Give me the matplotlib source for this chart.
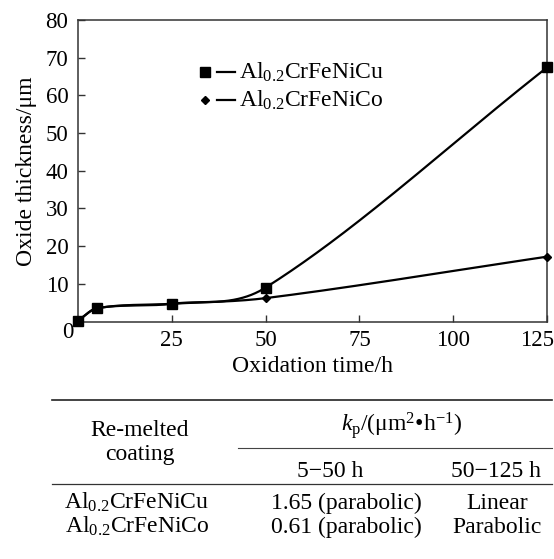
import numpy as np
import matplotlib
matplotlib.use("Agg")
import matplotlib.pyplot as plt
from matplotlib.lines import Line2D

plt.rcParams['font.family'] = ['Liberation Serif', 'DejaVu Serif']
plt.rcParams['mathtext.fontset'] = 'custom'
plt.rcParams['mathtext.rm'] = 'Liberation Serif'
plt.rcParams['mathtext.it'] = 'Liberation Serif:italic'

# ---- data ----
time_h = [0, 5, 25, 50, 125]
cu_thick = [0.2, 3.5, 4.7, 9.0, 67.4]
co_thick = [0.2, 3.5, 4.7, 6.2, 17.2]
series_labels = [r'Al$_{\mathregular{0.2}}$CrFeNiCu', r'Al$_{\mathregular{0.2}}$CrFeNiCo']
xticks = [25, 50, 75, 100, 125]
yticks = [10, 20, 30, 40, 50, 60, 70, 80]

table_header = ['Re-melted', 'coating',
                r'$\mathit{k}_{\mathregular{p}}$/(μm$^{\mathregular{2}}$•h$^{\mathregular{−1}}$)',
                '5−50 h', '50−125 h']
table_rows = [
    [series_labels[0], '1.65 (parabolic)', 'Linear'],
    [series_labels[1], '0.61 (parabolic)', 'Parabolic'],
]


def smooth_curve(x, y, xs):
    """Cardinal (Catmull-Rom style) Hermite curve through the points, for drawing."""
    x = np.asarray(x, float); y = np.asarray(y, float)
    n = len(x)
    m = np.zeros(n)
    m[0] = (y[1] - y[0]) / (x[1] - x[0])
    m[-1] = (y[-1] - y[-2]) / (x[-1] - x[-2])
    for i in range(1, n - 1):
        m[i] = (y[i + 1] - y[i - 1]) / (x[i + 1] - x[i - 1])
    idx = np.clip(np.searchsorted(x, xs) - 1, 0, n - 2)
    h = x[idx + 1] - x[idx]
    t = (xs - x[idx]) / h
    h00 = 2 * t**3 - 3 * t**2 + 1
    h10 = t**3 - 2 * t**2 + t
    h01 = -2 * t**3 + 3 * t**2
    h11 = t**3 - t**2
    return h00 * y[idx] + h10 * h * m[idx] + h01 * y[idx + 1] + h11 * h * m[idx + 1]


W, H = 554, 559
fig = plt.figure(figsize=(W / 100, H / 100), dpi=100)
fx = lambda p: p / W
fy = lambda p: 1 - p / H

L, R, T, B = 78, 547, 20, 321.5
ax = fig.add_axes([fx(L), fy(B), fx(R) - fx(L), fy(T) - fy(B)])

xs = np.linspace(time_h[0], time_h[-1], 800)
ax.plot(xs, smooth_curve(time_h, co_thick, xs), color='black', lw=1.6, clip_on=False)
ax.plot(time_h, co_thick, 'D', color='black', ms=4.5, clip_on=False, zorder=3)
ax.plot(xs, smooth_curve(time_h, cu_thick, xs), color='black', lw=1.6, clip_on=False)
ax.plot(time_h, cu_thick, 's', color='black', ms=6.5, clip_on=False, zorder=4)

ax.set_xlim(0, 125)
ax.set_ylim(0, 80)
ax.set_xticks(xticks)
ax.set_yticks(yticks)
ax.set_xticklabels([str(t) if t != 125 else '' for t in xticks])
ax.tick_params(direction='in', length=5, width=1, labelsize=16.5, color='#333333')
ax.tick_params(axis='y', pad=7)
ax.tick_params(axis='x', pad=6)
for s in ax.spines.values():
    s.set_linewidth(1.1)
    s.set_color('#333333')

fig.text(fx(537), fy(340), '125', ha='center', va='center', fontsize=16.5)
fig.text(fx(68), fy(333), '0', ha='center', va='center', fontsize=16.5)

ax.set_xlabel('Oxidation time/h', fontsize=17, labelpad=4)
ax.set_ylabel('Oxide thickness/μm', fontsize=17, labelpad=6)

# legend (Origin style: marker, dash, label)
leg_rows = [(72, 's', 6.5), (100, 'D', 4.5)]
for (py, mk, ms), lab in zip(leg_rows, series_labels):
    fig.add_artist(Line2D([fx(205)], [fy(py)], marker=mk, ms=ms, color='black',
                          transform=fig.transFigure))
    fig.add_artist(Line2D([fx(217), fx(235)], [fy(py), fy(py)], lw=1.6, color='black',
                          transform=fig.transFigure))
    fig.text(fx(239), fy(py + 7), lab, ha='left', va='baseline', fontsize=17)

# ---- table ----
fig.add_artist(Line2D([fx(52), fx(552)], [fy(400), fy(400)], lw=1.2, color='#222222', transform=fig.transFigure))
fig.add_artist(Line2D([fx(238), fx(552)], [fy(448), fy(448)], lw=0.8, color='#444444', transform=fig.transFigure))
fig.add_artist(Line2D([fx(52), fx(552)], [fy(484), fy(484)], lw=0.9, color='#333333', transform=fig.transFigure))

ts = 17
fig.text(fx(140), fy(436), table_header[0], ha='center', va='baseline', fontsize=ts)
fig.text(fx(140), fy(460), table_header[1], ha='center', va='baseline', fontsize=ts)
fig.text(fx(402), fy(431), table_header[2], ha='center', va='baseline', fontsize=ts)
fig.text(fx(330), fy(477), table_header[3], ha='center', va='baseline', fontsize=ts)
fig.text(fx(496), fy(477), table_header[4], ha='center', va='baseline', fontsize=ts)

col_x = [137, 346, 497]
row_y = [509, 533]
for ry, row in zip(row_y, table_rows):
    for cx, cell in zip(col_x, row):
        fig.text(fx(cx), fy(ry), cell, ha='center', va='baseline', fontsize=ts)

fig.savefig('out.png', dpi=100)
